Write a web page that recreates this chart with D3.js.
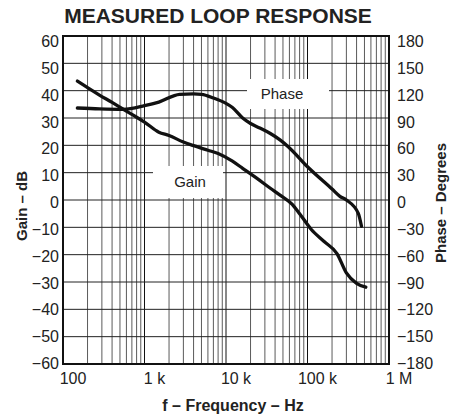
<!DOCTYPE html>
<html>
<head>
<meta charset="utf-8">
<script src="https://cdn.jsdelivr.net/npm/d3@7"></script>
<style>
  body { margin: 0; background: #fff; }
  svg { display: block; font-family: "Liberation Sans", Arial, Helvetica, sans-serif; }
</style>
</head>
<body>
<div id="chart"></div>
<script>
// values
const gainFreq = [150, 200, 280, 400, 550, 700, 1000, 1500, 2000, 3000, 4000, 6000, 8000, 12000,
  16000, 24000, 35000, 46000, 65000, 80000, 110000, 160000, 230000, 300000, 400000, 520000];
const gainDb = [43.5, 41.1, 38.4, 35.7, 33.2, 31.3, 28.5, 24.8, 23.6, 21.2, 19.9, 18.2, 17.0, 14.2,
  11.6, 7.9, 4.3, 1.8, -1.6, -5.0, -10.6, -15.2, -19.6, -26.7, -30.5, -31.9];

const phaseFreq = [150, 280, 550, 1000, 1500, 2700, 4000, 5000, 7000, 10000, 12000, 16000, 20000,
  26000, 35000, 46000, 58000, 100000, 200000, 250000, 300000, 420000, 460000];
const phaseDeg = [101, 100, 99.5, 103.5, 107.5, 116, 116.5, 116, 112, 106, 101.5, 90, 84,
  79, 73, 66, 58.5, 36.5, 12, 4, 0, -14.6, -29];

const freqTicks = [100, 1e3, 1e4, 1e5, 1e6];
const freqLabels = ['100', '1 k', '10 k', '100 k', '1 M'];
const gainTicks = [60, 50, 40, 30, 20, 10, 0, -10, -20, -30, -40, -50, -60];
const phaseTicks = [180, 150, 120, 90, 60, 30, 0, -30, -60, -90, -120, -150, -180];

const W = 461, H = 416;
const pl = 63, pr = 389, pt = 36, pb = 364;

const svg = d3.select('#chart').append('svg')
  .attr('width', W)
  .attr('height', H)
  .attr('viewBox', [0, 0, W, H]);

const x = d3.scaleLog().domain([100, 1e6]).range([pl, pr]);
const yG = d3.scaleLinear().domain([-60, 60]).range([pb, pt]);
const yP = d3.scaleLinear().domain([-180, 180]).range([pb, pt]);
// tick labels sit a little lower than the lines towards the top
const yLab = d3.scaleLinear().domain([-60, 60]).range([pb - 1, pt + 5]);

const fmt = v => v < 0 ? '\u2212' + Math.abs(v) : String(v);

// minor vertical grid
const minor = [];
for (let dec = 100; dec < 1e6; dec *= 10) {
  for (let k = 2; k <= 9; k++) minor.push(dec * k);
}
const grid = svg.append('g');
grid.selectAll('line.minor')
  .data(minor)
  .join('line')
  .attr('class', 'minor')
  .attr('x1', d => x(d)).attr('x2', d => x(d))
  .attr('y1', pt).attr('y2', pb)
  .attr('stroke', '#5a5a5a')
  .attr('stroke-width', 1);

grid.selectAll('line.major')
  .data(freqTicks.slice(1, -1))
  .join('line')
  .attr('class', 'major')
  .attr('x1', d => x(d)).attr('x2', d => x(d))
  .attr('y1', pt).attr('y2', pb)
  .attr('stroke', '#111')
  .attr('stroke-width', 1);

grid.selectAll('line.h')
  .data(gainTicks.slice(1, -1))
  .join('line')
  .attr('class', 'h')
  .attr('x1', pl).attr('x2', pr)
  .attr('y1', d => yG(d)).attr('y2', d => yG(d))
  .attr('stroke', '#222')
  .attr('stroke-width', 1);

// label boxes (white, hide the grid)
const boxes = [
  { txt: 'Phase', x0: 247, x1: 329, y0: 79, y1: 109, dx: -6 },
  { txt: 'Gain', x0: 153, x1: 223, y0: 166, y1: 198, dx: 2 }
];
const bx = svg.append('g');
bx.selectAll('rect')
  .data(boxes)
  .join('rect')
  .attr('x', d => d.x0).attr('y', d => d.y0)
  .attr('width', d => d.x1 - d.x0).attr('height', d => d.y1 - d.y0)
  .attr('fill', '#fff');
bx.selectAll('text')
  .data(boxes)
  .join('text')
  .attr('x', d => (d.x0 + d.x1) / 2 + d.dx)
  .attr('y', d => (d.y0 + d.y1) / 2 + 5)
  .attr('text-anchor', 'middle')
  .style('font-size', '15px')
  .attr('fill', '#222')
  .text(d => d.txt);

// curves
const lineG = d3.line()
  .x((d, i) => x(gainFreq[i]))
  .y(d => yG(d))
  .curve(d3.curveMonotoneX);
const lineP = d3.line()
  .x((d, i) => x(phaseFreq[i]))
  .y(d => yP(d))
  .curve(d3.curveMonotoneX);

svg.append('path')
  .attr('d', lineG(gainDb))
  .attr('fill', 'none')
  .attr('stroke', '#111')
  .attr('stroke-width', 3.3)
  .attr('stroke-linecap', 'round')
  .attr('stroke-linejoin', 'round');
svg.append('path')
  .attr('d', lineP(phaseDeg))
  .attr('fill', 'none')
  .attr('stroke', '#111')
  .attr('stroke-width', 3.3)
  .attr('stroke-linecap', 'round')
  .attr('stroke-linejoin', 'round');

// frame
svg.append('rect')
  .attr('x', pl).attr('y', pt)
  .attr('width', pr - pl).attr('height', pb - pt)
  .attr('fill', 'none')
  .attr('stroke', '#111')
  .attr('stroke-width', 2);

// tick labels
svg.append('g').selectAll('text')
  .data(gainTicks)
  .join('text')
  .attr('x', pl - 4)
  .attr('y', d => yLab(d) + 6)
  .attr('text-anchor', 'end')
  .style('font-size', '16px')
  .attr('fill', '#222')
  .text(fmt);

svg.append('g').selectAll('text')
  .data(phaseTicks)
  .join('text')
  .attr('x', pr + 8)
  .attr('y', d => yLab(d / 3) + 6)
  .style('font-size', '16px')
  .attr('fill', '#222')
  .text(fmt);

svg.append('g').selectAll('text')
  .data(freqTicks)
  .join('text')
  .attr('x', d => x(d) + 10)
  .attr('y', 384)
  .attr('text-anchor', 'middle')
  .style('font-size', '16px')
  .attr('fill', '#222')
  .text((d, i) => freqLabels[i]);

// titles
svg.append('text')
  .attr('x', 218).attr('y', 23)
  .attr('text-anchor', 'middle')
  .style('font-size', '21px')
  .style('font-weight', 'bold')
  .attr('fill', '#222')
  .text('MEASURED LOOP RESPONSE');

svg.append('text')
  .attr('x', 233).attr('y', 411)
  .attr('text-anchor', 'middle')
  .style('font-size', '16px')
  .style('font-weight', 'bold')
  .attr('fill', '#222')
  .text('f \u2013 Frequency \u2013 Hz');

svg.append('text')
  .attr('transform', 'translate(27,206) rotate(-90)')
  .attr('text-anchor', 'middle')
  .style('font-size', '15px')
  .style('font-weight', 'bold')
  .attr('fill', '#222')
  .text('Gain \u2013 dB');

svg.append('text')
  .attr('transform', 'translate(446,203) rotate(-90)')
  .attr('text-anchor', 'middle')
  .style('font-size', '15px')
  .style('font-weight', 'bold')
  .attr('fill', '#222')
  .text('Phase \u2013 Degrees');
</script>
</body>
</html>
